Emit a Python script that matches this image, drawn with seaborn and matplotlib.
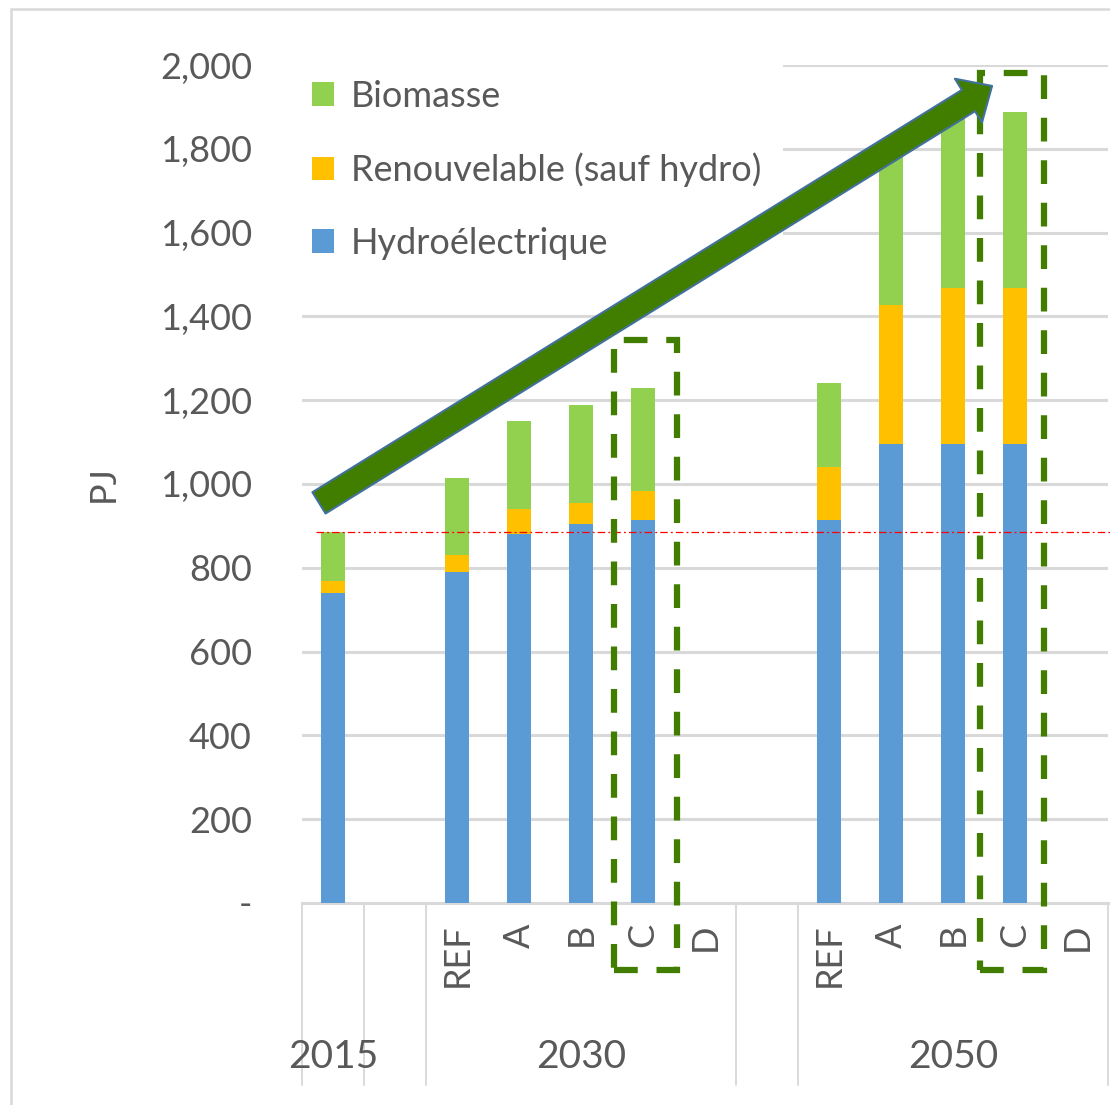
import numpy as np
import pandas as pd
import matplotlib
matplotlib.use("Agg")
import matplotlib.pyplot as plt
import matplotlib.transforms as mtrans
from matplotlib.patches import Patch, Rectangle, FancyArrowPatch, ArrowStyle
from matplotlib.ticker import FuncFormatter, MultipleLocator
import seaborn as sns

# ---- data (PJ) ----
year_2015 = "2015"
year_groups = ["2030", "2050"]
scenarios = ["REF", "A", "B", "C", "D"]

hydro_2015 = [740]
renew_2015 = [28]
bio_2015 = [117]

hydro_2030 = [790, 880, 905, 915, np.nan]
renew_2030 = [40, 60, 50, 68, np.nan]
bio_2030 = [185, 210, 233, 245, np.nan]

hydro_2050 = [915, 1095, 1095, 1095, np.nan]
renew_2050 = [125, 333, 372, 372, np.nan]
bio_2050 = [200, 372, 423, 420, np.nan]

series_labels = ["Biomasse", "Renouvelable (sauf hydro)", "Hydroélectrique"]
highlight_scenario = "C"

# ---- table with one row per category slot (empty slots separate the years) ----
rows = [(year_2015, year_2015, "", hydro_2015[0], renew_2015[0], bio_2015[0]),
        ("gap1", "", "", np.nan, np.nan, np.nan)]
for s, h, r, b in zip(scenarios, hydro_2030, renew_2030, bio_2030):
    rows.append((f"2030|{s}", "2030", s, h, r, b))
rows.append(("gap2", "", "", np.nan, np.nan, np.nan))
for s, h, r, b in zip(scenarios, hydro_2050, renew_2050, bio_2050):
    rows.append((f"2050|{s}", "2050", s, h, r, b))

df = pd.DataFrame(rows, columns=["slot", "year", "scenario", "hydro", "renew", "bio"])
df["top_renew"] = df["hydro"] + df["renew"]
df["top_bio"] = df["top_renew"] + df["bio"]
order = list(df["slot"])

BLUE = "#5b9bd5"
ORANGE = "#ffc000"
GREEN = "#92d050"
DARK_GREEN = "#417e00"
GRID = "#d9d9d9"
TEXT = "#595959"

sns.set_theme(style="white")
plt.rcParams["font.family"] = ["Lato", "DejaVu Sans"]

W, H = 1110, 1105
fig = plt.figure(figsize=(W / 100, H / 100), dpi=100)
ax = fig.add_axes([302 / W, 1 - 903 / H, 806 / W, 838 / H])

bar_kw = dict(data=df, x="slot", order=order, width=0.39, saturation=1,
              errorbar=None, linewidth=0, ax=ax, zorder=3)
sns.barplot(y="top_bio", color=GREEN, **bar_kw)
sns.barplot(y="top_renew", color=ORANGE, **bar_kw)
sns.barplot(y="hydro", color=BLUE, **bar_kw)

ax.set_xlim(-0.5, len(order) - 0.5)
ax.set_ylim(0, 2000)
ax.yaxis.set_major_locator(MultipleLocator(200))
ax.yaxis.set_major_formatter(FuncFormatter(lambda v, p: "-" if v == 0 else f"{v:,.0f}"))
ax.grid(axis="y", color=GRID, lw=2.2, zorder=0)
ax.set_axisbelow(True)
for side in ["left", "right", "top"]:
    ax.spines[side].set_visible(False)
ax.spines["bottom"].set_color(GRID)
ax.spines["bottom"].set_linewidth(2.2)
ax.tick_params(axis="y", length=0, pad=36, labelsize=26, labelcolor=TEXT)
ax.tick_params(axis="x", length=0, labelbottom=False)
ax.set_xlabel("")
ax.set_ylabel("PJ", fontsize=26, color=TEXT)
ax.yaxis.set_label_coords(-0.226, 0.5)

# ---- two-level category axis ----
tr = mtrans.blended_transform_factory(ax.transData, ax.transAxes)
pos = {k: i for i, k in enumerate(order)}
for _, row in df.iterrows():
    if row["scenario"]:
        ax.text(pos[row["slot"]], -0.024, row["scenario"], rotation=90,
                ha="center", va="top", fontsize=26, color=TEXT, transform=tr)
group_edges = []
for yr in [year_2015] + year_groups:
    idx = [pos[k] for k in df.loc[df["year"] == yr, "slot"]]
    ax.text(np.mean(idx), -0.184, yr, ha="center", va="center",
            fontsize=28, color=TEXT, transform=tr)
    group_edges += [min(idx) - 0.5, max(idx) + 0.5]
for xe in sorted(set(group_edges)):
    ax.plot([xe, xe], [0, -0.217], color=GRID, lw=1.4, transform=tr, clip_on=False)

# ---- legend ----
handles = [Patch(facecolor=c, edgecolor="none") for c in [GREEN, ORANGE, BLUE]]
leg = ax.legend(handles, series_labels, loc="upper left",
                bbox_to_anchor=(290 / W, 1 - 58 / H), bbox_transform=fig.transFigure,
                fontsize=26, frameon=True, facecolor="white", edgecolor="none",
                framealpha=1, fancybox=False, borderpad=0.6, borderaxespad=0,
                handlelength=0.62, handleheight=0.62, handletextpad=0.47,
                labelspacing=1.1)
for t in leg.get_texts():
    t.set_color(TEXT)
leg.set_zorder(5)

# ---- reference level of 2015 ----
total_2015 = hydro_2015[0] + renew_2015[0] + bio_2015[0]
ax.plot([-0.28, len(order) - 0.45], [total_2015, total_2015], color="red", lw=0.9,
        ls=(0, (6, 2.5, 1.5, 2.5)), zorder=4, clip_on=False)

# ---- dashed frames around scenario C ----
dash = (0, (3.8, 3.0))
for yr, top, x_off in [("2030", 1344, -0.47), ("2050", 1981, -0.56)]:
    xc = pos[f"{yr}|{highlight_scenario}"]
    ax.add_patch(Rectangle((xc + x_off, -160), 1.02, top + 160, fill=False,
                           edgecolor=DARK_GREEN, lw=4.5, ls=dash,
                           clip_on=False, zorder=6))

# ---- growth arrow ----
arrow = FancyArrowPatch(posA=(-0.226, 955), posB=(10.63, 1950),
                        arrowstyle=ArrowStyle.Simple(head_length=20, head_width=37, tail_width=18),
                        facecolor=DARK_GREEN, edgecolor="#41719c", lw=1.5,
                        shrinkA=0, shrinkB=0, clip_on=False, zorder=7)
ax.add_patch(arrow)

# ---- outer chart frame ----
fig.patches.append(Rectangle((11 / W, -0.1), 1.1, 1 - 9 / H + 0.1, transform=fig.transFigure,
                             fill=False, edgecolor=GRID, lw=1.8))

fig.savefig("out.png", dpi=100)
